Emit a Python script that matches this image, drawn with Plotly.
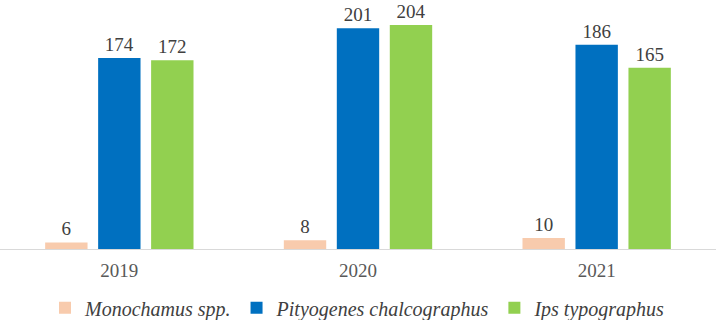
import plotly.graph_objects as go

years = ["2019", "2020", "2021"]
monochamus = [6, 8, 10]
pityogenes = [174, 201, 186]
ips = [172, 204, 165]

series_names = ["Monochamus spp.", "Pityogenes chalcographus", "Ips typographus"]
series_vals = [monochamus, pityogenes, ips]
colors = ["#F8CBAD", "#0070C0", "#92D050"]

FONT = "Liberation Serif"

fig = go.Figure()
for name, vals, c in zip(series_names, series_vals, colors):
    fig.add_trace(go.Bar(
        x=years, y=vals, name=name, marker_color=c, marker_line_width=0,
        text=[str(v) for v in vals], textposition="outside",
        textfont=dict(family=FONT, size=19, color="#404040"),
        cliponaxis=False,
    ))

fig.update_layout(
    width=718, height=320,
    margin=dict(l=0, r=2, t=0, b=71, autoexpand=False),
    paper_bgcolor="white", plot_bgcolor="white",
    barmode="group", bargap=0.334, bargroupgap=0.2,
    showlegend=True,
    font=dict(family=FONT),
    legend=dict(orientation="h", x=0.5, xanchor="center", xref="paper",
                yref="container", y=0.038, yanchor="middle",
                font=dict(family=FONT, size=20, color="#404040", style="italic"),
                itemsizing="constant", itemwidth=30, traceorder="normal"),
    xaxis=dict(showline=True, linecolor="#D9D9D9", linewidth=1, ticks="",
               automargin=False, ticklabelstandoff=4,
               tickfont=dict(family=FONT, size=19, color="#595959"), showgrid=False),
    yaxis=dict(range=[0, 226.8], showgrid=False, showticklabels=False, zeroline=False,
               showline=False, automargin=False),
)

fig.write_html("out.html", config={"displayModeBar": False},
               post_script="document.body.style.margin='0';")
